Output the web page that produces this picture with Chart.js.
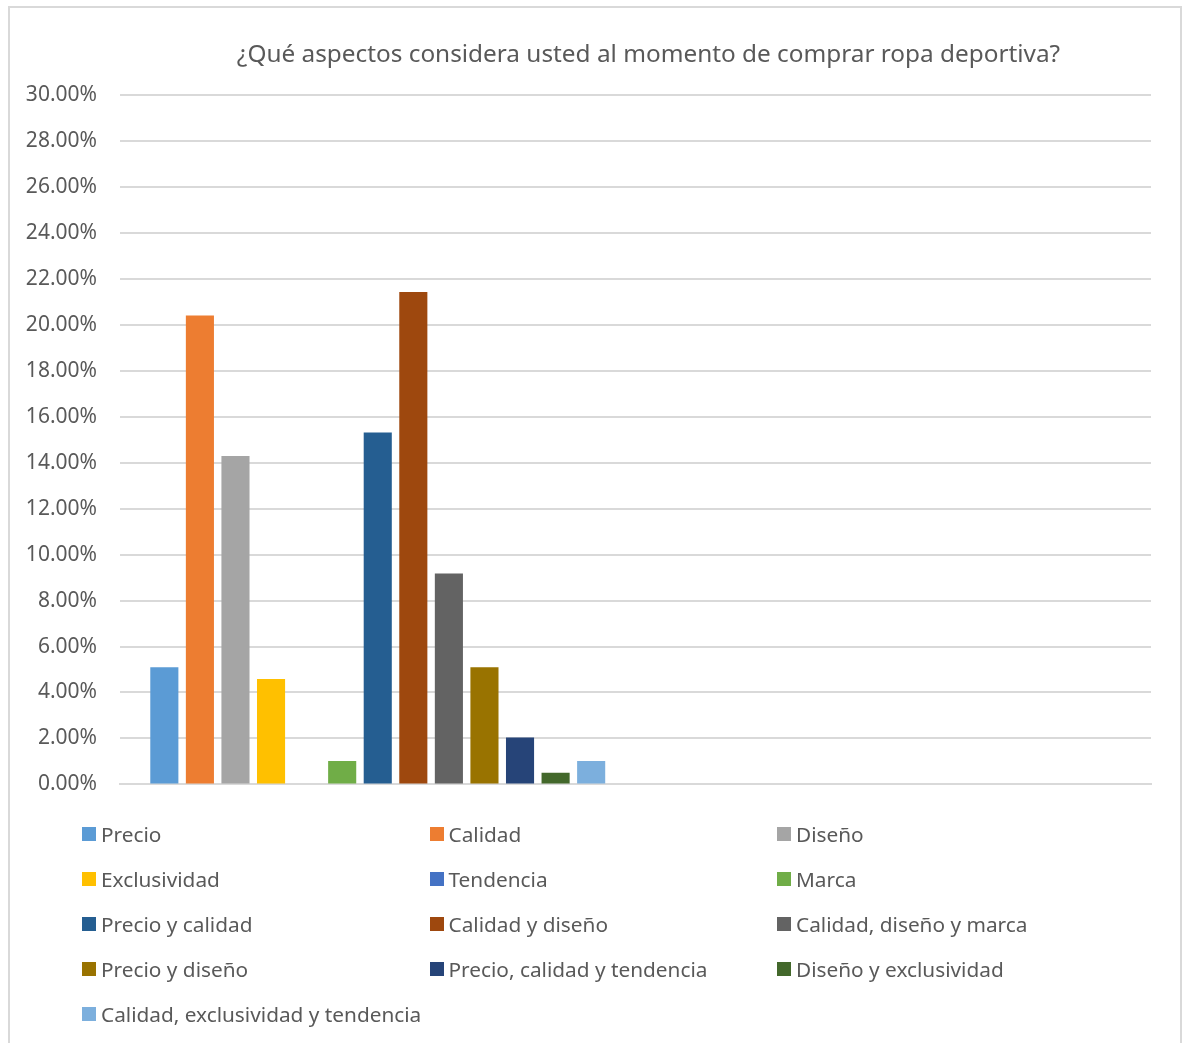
<!DOCTYPE html>
<html>
<head>
<meta charset="utf-8">
<script src="https://cdn.jsdelivr.net/npm/chart.js@4.4.1/dist/chart.umd.min.js"></script>
<style>
  body { margin: 0; background: #fff; font-family: "Noto Sans", sans-serif; }
  #frame { position: absolute; left: 8px; top: 6px; width: 1170px; height: 1100px; border: 2px solid #D9D9D9; }
  #title { position: absolute; left: 0; top: 36px; width: 1297px; text-align: center; color: #595959; font-size: 24.35px; line-height: 34px; white-space: nowrap; }
  #wrap { position: absolute; left: 0; top: 0; width: 1182px; height: 820px; }
  #legend { position: absolute; left: 82px; top: 811px; display: grid; grid-template-columns: 347.5px 347.5px 347.5px; }
  .item { height: 45px; display: flex; align-items: center; color: #595959; font-size: 20.8px; white-space: nowrap; }
  .box { width: 14px; height: 14px; margin-right: 5px; flex: none; }
</style>
</head>
<body>
<div id="frame"></div>
<div id="wrap"><canvas id="myChart"></canvas></div>
<div id="title"></div>
<div id="legend"></div>
<script>
var title = '¿Qué aspectos considera usted al momento de comprar ropa deportiva?';
var categories = ['', ''];
var series_names = ['Precio', 'Calidad', 'Diseño', 'Exclusividad', 'Tendencia', 'Marca',
    'Precio y calidad', 'Calidad y diseño', 'Calidad, diseño y marca', 'Precio y diseño',
    'Precio, calidad y tendencia', 'Diseño y exclusividad', 'Calidad, exclusividad y tendencia'];
var series_values = [5.10, 20.41, 14.29, 4.59, 0, 1.02, 15.31, 21.43, 9.18, 5.10, 2.04, 0.51, 1.02];
var series_colors = ['#5B9BD5', '#ED7D31', '#A5A5A5', '#FFC000', '#4472C4', '#70AD47',
    '#255E91', '#9E480E', '#636363', '#997300', '#264478', '#43682B', '#7CAFDD'];

document.getElementById('title').textContent = title;

var datasets = series_names.map(function (name, i) {
    return {
        label: name,
        data: [series_values[i], null],
        backgroundColor: series_colors[i],
        borderWidth: 0,
        categoryPercentage: 0.897,
        barPercentage: 0.79
    };
});

const ctx = document.getElementById('myChart');
const chart = new Chart(ctx, {
    type: 'bar',
    data: { labels: categories, datasets: datasets },
    options: {
        responsive: true,
        maintainAspectRatio: false,
        animation: false,
        layout: { padding: { left: 0, right: 31, top: 95, bottom: 0 } },
        plugins: {
            legend: { display: false },
            tooltip: { enabled: false }
        },
        scales: {
            x: {
                offset: true,
                grid: { display: false, drawTicks: false },
                border: { display: true, color: '#D9D9D9', width: 2 },
                ticks: { display: false }
            },
            y: {
                min: 0,
                max: 30,
                afterFit: function (scale) { scale.width = 120; },
                grid: { color: '#D9D9D9', lineWidth: 2, drawTicks: false },
                border: { display: false },
                ticks: {
                    stepSize: 2,
                    padding: 23,
                    color: '#595959',
                    font: { family: 'Noto Sans', size: 21 },
                    callback: function (v) { return v.toFixed(2) + '%'; }
                }
            }
        }
    }
});

var legend = document.getElementById('legend');
chart.data.datasets.forEach(function (ds) {
    var item = document.createElement('div');
    item.className = 'item';
    var box = document.createElement('span');
    box.className = 'box';
    box.style.background = ds.backgroundColor;
    item.appendChild(box);
    item.appendChild(document.createTextNode(ds.label));
    legend.appendChild(item);
});
</script>
</body>
</html>
